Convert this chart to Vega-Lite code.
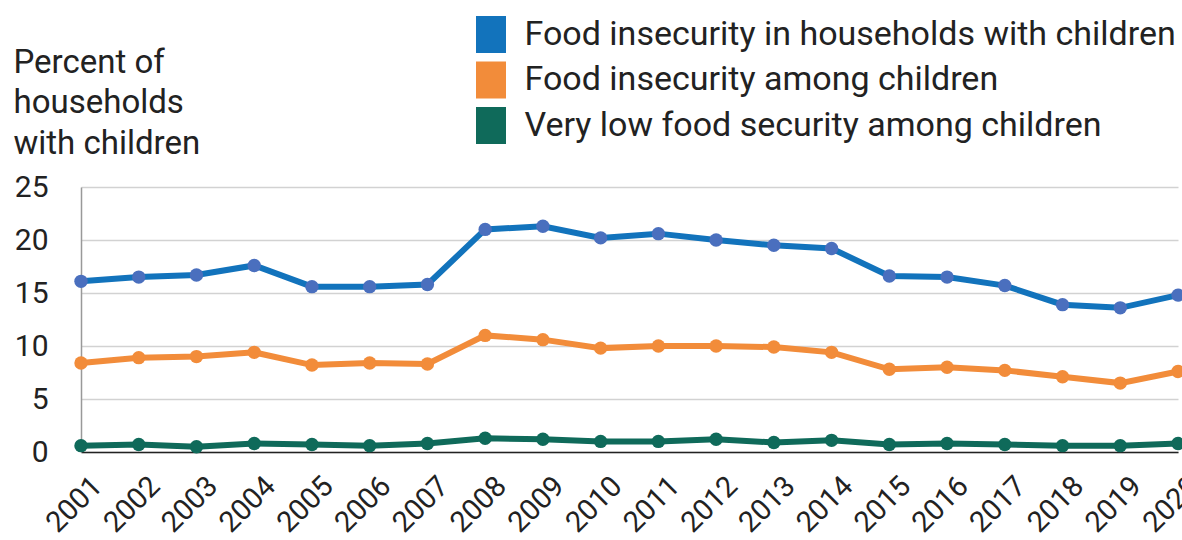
{
  "$schema": "https://vega.github.io/schema/vega-lite/v6.json",
  "autosize": "none",
  "width": 1097,
  "height": 265,
  "padding": {"left": 81, "top": 187, "right": 4, "bottom": 88},
  "background": "white",
  "config": {
    "view": {"stroke": null},
    "font": "Roboto",
    "axis": {"labelFont": "Roboto", "titleFont": "Roboto", "labelColor": "#222", "titleColor": "#222"},
    "legend": {"labelFont": "Roboto"}
  },
  "data": {
    "values": [
      {"year": "2001", "series": "Food insecurity in households with children", "value": 16.1},
      {"year": "2002", "series": "Food insecurity in households with children", "value": 16.5},
      {"year": "2003", "series": "Food insecurity in households with children", "value": 16.7},
      {"year": "2004", "series": "Food insecurity in households with children", "value": 17.6},
      {"year": "2005", "series": "Food insecurity in households with children", "value": 15.6},
      {"year": "2006", "series": "Food insecurity in households with children", "value": 15.6},
      {"year": "2007", "series": "Food insecurity in households with children", "value": 15.8},
      {"year": "2008", "series": "Food insecurity in households with children", "value": 21.0},
      {"year": "2009", "series": "Food insecurity in households with children", "value": 21.3},
      {"year": "2010", "series": "Food insecurity in households with children", "value": 20.2},
      {"year": "2011", "series": "Food insecurity in households with children", "value": 20.6},
      {"year": "2012", "series": "Food insecurity in households with children", "value": 20.0},
      {"year": "2013", "series": "Food insecurity in households with children", "value": 19.5},
      {"year": "2014", "series": "Food insecurity in households with children", "value": 19.2},
      {"year": "2015", "series": "Food insecurity in households with children", "value": 16.6},
      {"year": "2016", "series": "Food insecurity in households with children", "value": 16.5},
      {"year": "2017", "series": "Food insecurity in households with children", "value": 15.7},
      {"year": "2018", "series": "Food insecurity in households with children", "value": 13.9},
      {"year": "2019", "series": "Food insecurity in households with children", "value": 13.6},
      {"year": "2020", "series": "Food insecurity in households with children", "value": 14.8},
      {"year": "2001", "series": "Food insecurity among children", "value": 8.4},
      {"year": "2002", "series": "Food insecurity among children", "value": 8.9},
      {"year": "2003", "series": "Food insecurity among children", "value": 9.0},
      {"year": "2004", "series": "Food insecurity among children", "value": 9.4},
      {"year": "2005", "series": "Food insecurity among children", "value": 8.2},
      {"year": "2006", "series": "Food insecurity among children", "value": 8.4},
      {"year": "2007", "series": "Food insecurity among children", "value": 8.3},
      {"year": "2008", "series": "Food insecurity among children", "value": 11.0},
      {"year": "2009", "series": "Food insecurity among children", "value": 10.6},
      {"year": "2010", "series": "Food insecurity among children", "value": 9.8},
      {"year": "2011", "series": "Food insecurity among children", "value": 10.0},
      {"year": "2012", "series": "Food insecurity among children", "value": 10.0},
      {"year": "2013", "series": "Food insecurity among children", "value": 9.9},
      {"year": "2014", "series": "Food insecurity among children", "value": 9.4},
      {"year": "2015", "series": "Food insecurity among children", "value": 7.8},
      {"year": "2016", "series": "Food insecurity among children", "value": 8.0},
      {"year": "2017", "series": "Food insecurity among children", "value": 7.7},
      {"year": "2018", "series": "Food insecurity among children", "value": 7.1},
      {"year": "2019", "series": "Food insecurity among children", "value": 6.5},
      {"year": "2020", "series": "Food insecurity among children", "value": 7.6},
      {"year": "2001", "series": "Very low food security among children", "value": 0.6},
      {"year": "2002", "series": "Very low food security among children", "value": 0.7},
      {"year": "2003", "series": "Very low food security among children", "value": 0.5},
      {"year": "2004", "series": "Very low food security among children", "value": 0.8},
      {"year": "2005", "series": "Very low food security among children", "value": 0.7},
      {"year": "2006", "series": "Very low food security among children", "value": 0.6},
      {"year": "2007", "series": "Very low food security among children", "value": 0.8},
      {"year": "2008", "series": "Very low food security among children", "value": 1.3},
      {"year": "2009", "series": "Very low food security among children", "value": 1.2},
      {"year": "2010", "series": "Very low food security among children", "value": 1.0},
      {"year": "2011", "series": "Very low food security among children", "value": 1.0},
      {"year": "2012", "series": "Very low food security among children", "value": 1.2},
      {"year": "2013", "series": "Very low food security among children", "value": 0.9},
      {"year": "2014", "series": "Very low food security among children", "value": 1.1},
      {"year": "2015", "series": "Very low food security among children", "value": 0.7},
      {"year": "2016", "series": "Very low food security among children", "value": 0.8},
      {"year": "2017", "series": "Very low food security among children", "value": 0.7},
      {"year": "2018", "series": "Very low food security among children", "value": 0.6},
      {"year": "2019", "series": "Very low food security among children", "value": 0.6},
      {"year": "2020", "series": "Very low food security among children", "value": 0.8}
    ]
  },
  "encoding": {
    "x": {
      "field": "year", "type": "ordinal",
      "scale": {"type": "point", "padding": 0},
      "axis": {
        "title": null, "labelAngle": -45, "labelAlign": "right", "labelBaseline": "middle",
        "labelFontSize": 29, "labelPadding": 29, "labelOffset": 16, "ticks": false,
        "domainColor": "#222", "domainWidth": 1.5, "grid": false
      }
    },
    "y": {
      "field": "value", "type": "quantitative",
      "scale": {"domain": [0, 25], "nice": false},
      "axis": {
        "values": [0, 5, 10, 15, 20, 25], "ticks": false, "labelFontSize": 30, "labelPadding": 33,
        "gridColor": "#d2d2d2", "gridWidth": 1.5, "domainColor": "#999", "domainWidth": 1.5,
        "title": ["Percent of", "households", "with children"], "titleAngle": 0, "titleAlign": "left",
        "titleBaseline": "alphabetic", "titleX": -68, "titleY": -115, "titleFontSize": 33,
        "titleFontWeight": "normal", "titleLineHeight": 40.5
      }
    }
  },
  "layer": [
    {
      "mark": {"type": "line", "strokeWidth": 6},
      "encoding": {
        "color": {
          "field": "series", "type": "nominal",
          "scale": {
            "domain": ["Food insecurity in households with children", "Food insecurity among children", "Very low food security among children"],
            "range": ["#1273BC", "#F28C3A", "#0F6A5A"]
          },
          "legend": {
            "title": null, "orient": "none", "legendX": 376.5, "legendY": -175, "padding": 0,
            "symbolType": "M0,-1V1", "symbolSize": 1369, "symbolStrokeWidth": 30,
            "labelFontSize": 34, "labelColor": "#222", "labelOffset": 0, "rowPadding": 0.5,
            "clipHeight": 45, "labelLimit": 800
          }
        }
      }
    },
    {
      "mark": {"type": "point", "filled": true, "opacity": 1, "size": 180},
      "encoding": {
        "color": {
          "field": "series", "type": "nominal",
          "scale": {
            "domain": ["Food insecurity in households with children", "Food insecurity among children", "Very low food security among children"],
            "range": ["#4A6FBE", "#F28C3A", "#0F6A5A"]
          },
          "legend": null
        }
      }
    }
  ],
  "resolve": {"scale": {"color": "independent"}}
}
